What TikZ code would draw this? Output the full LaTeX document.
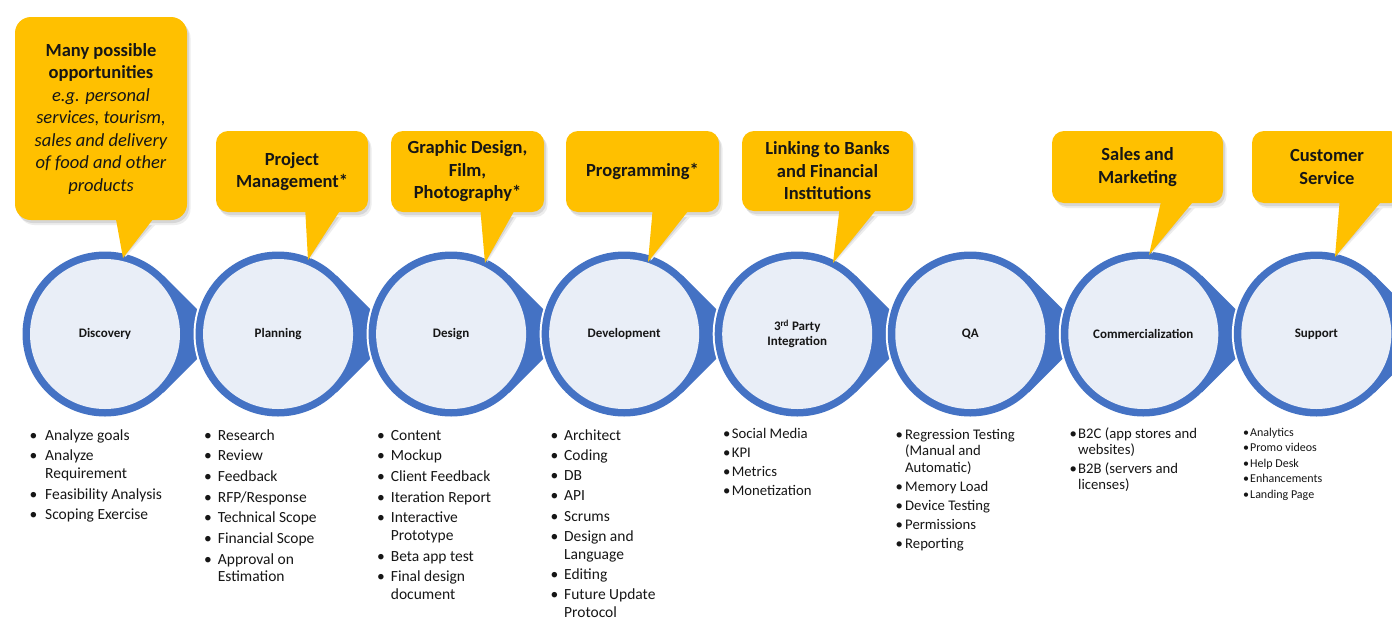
\documentclass[tikz,border=0pt]{standalone}
\usepackage{fontspec}
\setmainfont{Carlito}
\usetikzlibrary{calc}
\definecolor{cblue}{HTML}{4472C4}
\definecolor{clight}{HTML}{E9EEF7}
\definecolor{cgold}{HTML}{FFC000}
\definecolor{cshadow}{HTML}{D6D6D6}
\definecolor{cshadowb}{HTML}{EDEDED}
\definecolor{ctext}{HTML}{161616}
\newlength\bulw
\newlength\ligap
\newcommand\firstli[1]{\hangindent=\bulw\hangafter=1\noindent\makebox[\bulw][l]{\makebox[0pt][c]{\textbullet}}#1}
\newcommand\nextli[1]{\par\vspace{\ligap}\firstli{#1}}
\newcommand\ital[1]{{\mdseries\itshape #1}}
\tikzset{
  stagenode/.style={circle, fill=clight, minimum size=150pt, inner sep=0pt, align=center, text=ctext, font=\bfseries\fontsize{13}{15}\selectfont},
  calloutbox/.style={rectangle, fill=cgold, inner sep=0pt, align=center, text=ctext, font=\bfseries\fontsize{18.5}{22.5}\selectfont},
  listnode/.style={anchor=base west, inner sep=0pt, text=ctext},
  whiteedge/.style={draw=white, line width=4pt, line join=round},
}
% stage: name, center x, label
\newcommand\stage[3]{%
  \coordinate (#1c) at (#2,334);
  \coordinate (#1t) at (#2+117,334);
  \coordinate (#1a) at (#2+58.5,334-58.5);
  \coordinate (#1b) at (#2+58.5,334+58.5);
  \path[whiteedge] (#1a) -- (#1t) -- (#1b);
  \path[whiteedge] (#1c) circle[radius=82.5pt];
  \fill[cblue] (#1c) circle[radius=82.5pt];
  \fill[cblue] (#1c) -- (#1a) -- (#1t) -- (#1b) -- cycle;
  \node[stagenode] (#1) at (#1c) {#3};
}
% callout box: name, cx, cy, w, h, radius, text
\newcommand\callout[7]{%
  \fill[cshadowb, rounded corners=#6pt] (#2-#4/2+3.5,#3-#5/2+5) rectangle (#2+#4/2+3.5,#3+#5/2+5);
  \fill[cshadow, rounded corners=#6pt] (#2-#4/2+2,#3-#5/2+3) rectangle (#2+#4/2+2,#3+#5/2+3);
  \node[calloutbox, minimum width=#4pt, minimum height=#5pt, rounded corners=#6pt] (#1) at (#2,#3) {#7};
}
% pointer shadow: blx, brx, by, tipx, tipy
\newcommand\pshadow[5]{%
  \fill[cshadowb] (#1+3.5,#3+5) -- (#4+2.5,#5-1) -- (#2+3.5,#3+5) -- cycle;
  \fill[cshadow] (#1+2,#3+3) -- (#4+1.5,#5-2) -- (#2+2,#3+3) -- cycle;
}
% pointer fill: name, blx, brx, by, tipx, tipy
\newcommand\pfill[6]{%
  \coordinate (#1) at (#5,#6);
  \fill[cgold] (#2,#4) -- (#1) -- (#3,#4) -- cycle;
}
\begin{document}
\begin{tikzpicture}[x=1pt,y=-1pt]
\useasboundingbox (0,0) rectangle (1392,619);
\clip (0,0) rectangle (1392,619);
\fill[white] (0,0) rectangle (1392,619);

% process circles
\stage{s1}{105}{Discovery}
\stage{s2}{278.05}{Planning}
\stage{s3}{451.1}{Design}
\stage{s4}{624.15}{Development}
\stage{s5}{797.2}{3\textsuperscript{rd} Party\\Integration}
\stage{s6}{970.25}{QA}
\stage{s7}{1143.3}{Commercialization}
\stage{s8}{1316.35}{Support}

% callouts
\pshadow{115}{157}{214}{123}{258}
\callout{k1}{101}{118.5}{172}{203}{16}{Many possible\\opportunities\\\ital{e.g. personal}\\\ital{services, tourism,}\\\ital{sales and delivery}\\\ital{of food and other}\\\ital{products}}
\pfill{k1tip}{115}{157}{214}{123}{258}

\pshadow{305}{343}{206}{308}{260}
\callout{k2}{292}{171.5}{152}{81}{12}{Project\\Management*}
\pfill{k2tip}{305}{343}{206}{308}{260}

\pshadow{480}{517}{206}{485}{263}
\callout{k3}{467.5}{171.5}{153}{81}{12}{Graphic Design,\\Film,\\Photography*}
\pfill{k3tip}{480}{517}{206}{485}{263}

\pshadow{653}{692}{206}{648}{262}
\callout{k4}{642.5}{171.5}{153}{81}{12}{Programming*}
\pfill{k4tip}{653}{692}{206}{648}{262}

\pshadow{840}{880}{205}{833}{263}
\callout{k5}{827.5}{171}{171}{80}{12}{Linking to Banks\\and Financial\\Institutions}
\pfill{k5tip}{840}{880}{205}{833}{263}

\pshadow{1162}{1197}{197}{1149}{255}
\callout{k6}{1137.5}{167}{171}{72}{12}{Sales and\\Marketing}
\pfill{k6tip}{1162}{1197}{197}{1149}{255}

\pshadow{1340}{1385}{197}{1335}{257}
\callout{k7}{1327}{167}{150}{72}{12}{Customer\\Service}
\pfill{k7tip}{1340}{1385}{197}{1335}{257}

% lists
\node[listnode] (l1) at (33.3,440) {\fontsize{15.5}{17.7}\selectfont\setlength\bulw{11.7pt}\setlength\ligap{3pt}\parbox[t]{160pt}{\raggedright
  \firstli{Analyze goals}\nextli{Analyze\newline Requirement}\nextli{Feasibility Analysis}\nextli{Scoping Exercise}}};
\node[listnode] (l2) at (207.7,440) {\fontsize{15.5}{17.7}\selectfont\setlength\bulw{10pt}\setlength\ligap{3pt}\parbox[t]{160pt}{\raggedright
  \firstli{Research}\nextli{Review}\nextli{Feedback}\nextli{RFP/Response}\nextli{Technical Scope}\nextli{Financial Scope}\nextli{Approval on\newline Estimation}}};
\node[listnode] (l3) at (380.7,440) {\fontsize{15.5}{17.7}\selectfont\setlength\bulw{10pt}\setlength\ligap{3pt}\parbox[t]{160pt}{\raggedright
  \firstli{Content}\nextli{Mockup}\nextli{Client Feedback}\nextli{Iteration Report}\nextli{Interactive\newline Prototype}\nextli{Beta app test}\nextli{Final design\newline document}}};
\node[listnode] (l4) at (554.3,440) {\fontsize{15.5}{17.5}\selectfont\setlength\bulw{9.7pt}\setlength\ligap{2.8pt}\parbox[t]{160pt}{\raggedright
  \firstli{Architect}\nextli{Coding}\nextli{DB}\nextli{API}\nextli{Scrums}\nextli{Design and\newline Language}\nextli{Editing}\nextli{Future Update\newline Protocol}}};
\node[listnode] (l5) at (726.7,438.3) {\fontsize{14.7}{19}\selectfont\setlength\bulw{5pt}\setlength\ligap{0pt}\parbox[t]{160pt}{\raggedright
  \firstli{Social Media}\nextli{KPI}\nextli{Metrics}\nextli{Monetization}}};
\node[listnode] (l6) at (899,439) {\fontsize{14.7}{16.6}\selectfont\setlength\bulw{6pt}\setlength\ligap{2.4pt}\parbox[t]{160pt}{\raggedright
  \firstli{Regression Testing\newline (Manual and\newline Automatic)}\nextli{Memory Load}\nextli{Device Testing}\nextli{Permissions}\nextli{Reporting}}};
\node[listnode] (l7) at (1073,438.3) {\fontsize{14.7}{16}\selectfont\setlength\bulw{5pt}\setlength\ligap{3pt}\parbox[t]{160pt}{\raggedright
  \firstli{B2C (app stores and\newline websites)}\nextli{B2B (servers and\newline licenses)}}};
\node[listnode] (l8) at (1246,436) {\fontsize{12}{15.5}\selectfont\setlength\bulw{4pt}\setlength\ligap{0pt}\parbox[t]{140pt}{\raggedright
  \firstli{Analytics}\nextli{Promo videos}\nextli{Help Desk}\nextli{Enhancements}\nextli{Landing Page}}};
\end{tikzpicture}
\end{document}
